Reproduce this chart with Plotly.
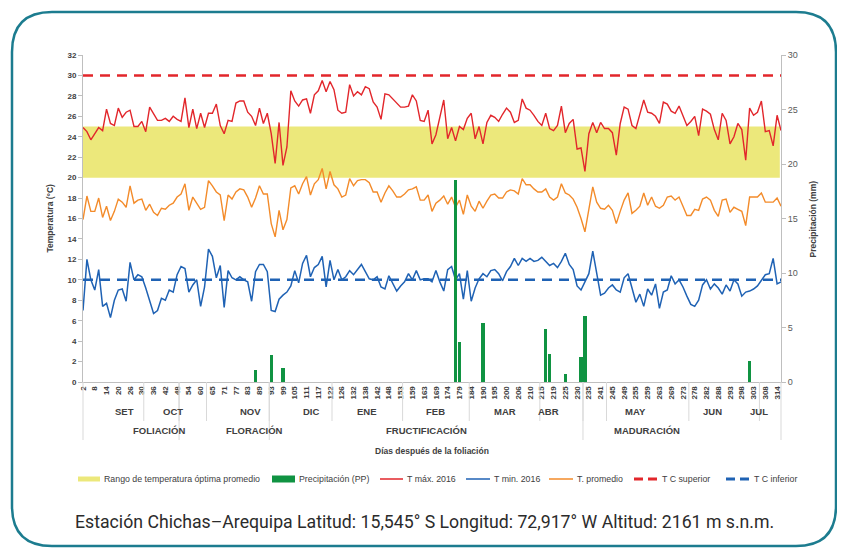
import plotly.graph_objects as go

# ---------------- data ----------------
day_labels = [2, 8, 14, 20, 26, 30, 36, 42, 48, 54, 60, 65, 71, 77, 83, 89, 93, 99, 105, 111,
              117, 122, 126, 132, 138, 142, 148, 153, 159, 163, 169, 174, 179, 184, 190, 195, 200,
              206, 210, 215, 219, 225, 230, 235, 241, 245, 249, 255, 259, 263, 269, 273, 278, 282,
              288, 293, 298, 303, 308, 314]

t_max = [24.9, 24.5, 23.7, 24.3, 24.9, 24.6, 26.7, 25.3, 25.1, 26.8,
         25.9, 26.4, 26.6, 25.0, 25.0, 25.5, 24.5, 26.9, 26.2, 25.6,
         25.6, 25.8, 25.5, 26.0, 25.7, 25.5, 27.8, 24.9, 26.7, 24.8,
         26.3, 24.9, 26.3, 26.3, 27.2, 25.1, 24.3, 25.6, 25.5, 27.3,
         27.5, 27.5, 26.4, 26.0, 25.1, 26.8, 25.3, 26.3, 24.3, 21.4,
         25.4, 21.2, 23.0, 28.5, 27.5, 27.0, 27.6, 27.7, 26.3,
         28.1, 28.5, 29.5, 28.4, 29.4, 28.6, 26.6, 26.3, 26.4, 29.1,
         28.0, 28.4, 28.1, 28.9, 28.7, 27.4, 26.9, 25.7, 28.2, 28.1,
         27.7, 27.3, 26.9, 26.9, 27.0, 28.1, 27.5, 25.6, 25.5, 26.6,
         23.3, 24.2, 25.9, 27.6, 23.8, 24.9, 23.6, 25.0, 24.7, 25.8,
         26.3, 23.8, 25.0, 23.3, 25.4, 26.1, 25.9, 25.5, 26.2, 26.8,
         26.4, 25.4, 25.6, 27.7, 26.8, 26.6, 26.1, 25.5,
         25.1, 26.3, 24.8, 24.6, 25.1, 27.0, 24.4, 25.3, 25.7, 22.8,
         22.9, 20.6, 24.3, 25.4, 24.4, 25.4, 24.8, 24.8, 24.4, 22.2,
         25.3, 26.9, 26.7, 25.1, 24.8, 26.3, 27.6, 26.4, 26.3, 26.0,
         25.3, 27.4, 27.2, 26.5, 26.3, 27.0, 26.0, 25.1, 25.5, 26.0,
         24.1, 26.7, 26.5, 26.2, 24.7, 23.7, 26.3, 25.6, 23.3, 24.0,
         25.3, 24.7, 21.7, 26.8, 26.1, 26.4, 27.5, 24.5, 24.6, 23.1,
         26.1, 24.6]

t_min = [7.0, 12.0, 10.0, 9.0, 11.0, 7.4, 7.7, 6.3, 8.0, 9.0,
         9.1, 7.9, 11.7, 10.0, 10.5, 10.3, 9.2, 7.9, 6.7, 7.0,
         8.2, 8.0, 9.0, 8.8, 10.5, 11.3, 11.1, 8.8, 9.5, 10.0,
         7.4, 9.3, 13.0, 12.3, 10.2, 11.4, 7.3, 10.9, 10.2, 10.0,
         10.3, 10.0, 9.8, 7.9, 10.8, 11.5, 11.5, 10.8, 7.0, 6.9,
         8.1, 8.5, 8.8, 9.4, 10.9, 9.7, 11.6, 12.4, 10.3,
         11.2, 11.5, 12.3, 9.3, 11.9, 10.0, 11.0, 10.0, 10.3, 10.9,
         10.5, 11.0, 11.5, 10.8, 10.1, 10.0, 10.3, 9.3, 9.1, 10.4,
         9.7, 8.9, 9.4, 9.8, 10.6, 10.0, 10.9, 10.0, 10.1, 10.1,
         9.8, 10.9, 9.8, 8.9, 11.0, 11.3, 10.0, 10.6, 8.1, 10.9,
         7.9, 9.2, 10.1, 10.6, 10.3, 10.9, 11.0, 10.6, 9.9, 10.8,
         11.3, 12.1, 11.4, 12.1, 11.8, 12.1, 11.8, 11.9,
         12.2, 11.8, 11.4, 11.6, 11.2, 11.8, 12.6, 11.5, 11.0, 9.4,
         9.0, 9.8, 10.6, 12.8, 10.5, 8.5, 8.7, 9.2, 9.5, 9.0,
         8.8, 10.2, 10.6, 9.3, 7.8, 8.6, 7.4, 9.1, 8.5, 9.6,
         7.2, 8.8, 9.0, 10.4, 9.6, 10.0, 9.3, 8.4, 7.6, 7.4,
         8.0, 9.5, 10.0, 9.1, 9.6, 9.2, 8.6, 9.5, 8.9, 10.0,
         9.6, 8.4, 8.8, 8.9, 9.1, 9.4, 10.0, 10.5, 10.6, 12.1,
         9.6, 9.8]

t_avg = [15.9, 18.2, 16.7, 16.7, 18.0, 16.1, 17.2, 15.8, 16.7, 17.9,
         17.6, 17.1, 19.2, 17.5, 17.8, 17.9, 16.8, 17.4, 16.6, 16.3,
         17.0, 16.9, 17.3, 17.5, 18.1, 18.4, 19.4, 16.8, 18.1, 17.5,
         16.9, 17.1, 19.7, 19.2, 18.6, 18.3, 15.8, 18.3, 17.9, 18.6,
         18.9, 18.8, 18.1, 17.1, 18.0, 19.2, 18.4, 18.4, 15.5, 14.2,
         16.8, 14.9, 15.9, 19.0, 19.2, 18.4, 19.4, 20.1, 18.3,
         19.4, 19.8, 20.9, 18.9, 20.6, 19.3, 18.9, 18.1, 18.3, 19.9,
         19.2, 19.7, 19.8, 19.8, 19.5, 18.6, 18.6, 17.6, 18.5, 19.2,
         18.7, 18.1, 18.1, 18.4, 18.8, 18.9, 19.1, 17.8, 17.8, 18.3,
         16.7, 17.5, 17.8, 18.2, 17.4, 18.1, 17.1, 17.8, 16.4, 18.3,
         17.2, 16.7, 17.7, 17.0, 17.7, 18.3, 18.4, 18.0, 18.0, 18.6,
         18.8, 18.7, 18.4, 19.9, 19.3, 19.3, 18.9, 18.6,
         18.6, 18.9, 18.1, 17.8, 18.1, 19.4, 18.5, 18.3, 17.9, 17.1,
         16.0, 14.7, 16.9, 19.1, 17.6, 17.0, 16.9, 17.3, 16.8, 15.5,
         16.7, 17.8, 18.5, 16.5, 16.8, 17.2, 18.5, 17.3, 18.1, 17.2,
         17.0, 17.3, 18.1, 18.2, 17.8, 18.1, 17.2, 16.3, 16.3, 16.9,
         16.8, 17.9, 18.1, 17.8, 16.8, 16.2, 17.8, 17.9, 16.6, 17.1,
         16.9, 16.7, 15.3, 18.1, 18.1, 18.1, 18.5, 17.6, 17.6, 17.6,
         18.0, 17.2]

# precipitation (mm): observation index -> value
precip_idx = [44, 48, 51, 95, 96, 102, 118, 119, 123, 127, 128, 170]
precip_mm = [1.1, 2.5, 1.3, 18.5, 3.7, 5.4, 4.9, 2.6, 0.7, 2.3, 6.1, 1.9]

tc_superior = 30
tc_inferior = 10
optimo_min, optimo_max = 20, 25

# month groups: (label, first index, last index)
month_groups = [("SET", 0, 15), ("OCT", 16, 24), ("", 25, 31), ("NOV", 32, 47), ("DIC", 48, 63),
                ("ENE", 64, 81), ("FEB", 82, 98), ("MAR", 99, 116), ("ABR", 117, 127),
                ("", 128, 133), ("MAY", 134, 154), ("JUN", 155, 172), ("JUL", 173, 178)]
phase_groups = [("FOLIACIÓN", 0, 24), ("FLORACIÓN", 25, 47), ("FRUCTIFICACIÓN", 48, 127),
                ("MADURACIÓN", 128, 178)]

n = len(t_max)
xs = list(range(n))
tick_idx = [i * 3 for i in range(len(day_labels))]
x_range = [0, n - 1]

# ---------------- styling ----------------
RED = "#e2262b"
BLUE = "#1f62b4"
ORANGE = "#f38b2a"
GREEN = "#109342"
YELLOW = "#ece87b"
TXT = "#404040"
AX = "#bfbfbf"
FONT = "Liberation Sans, Arial, sans-serif"

# page body has an 8px margin: figure is drawn at screen offset (8, 8)
OFF = 8
W, H = 845 - OFF, 550 - OFF
PLOT_X0, PLOT_X1, PLOT_Y0, PLOT_Y1 = 83, 781, 55, 382   # plot area in screen pixels
L, T = PLOT_X0 - OFF, PLOT_Y0 - OFF
PW, PH = PLOT_X1 - PLOT_X0, PLOT_Y1 - PLOT_Y0
R, B = W - L - PW, H - T - PH


def px(sx):
    return (sx - PLOT_X0) / PW


def py(sy):
    return (PLOT_Y1 - sy) / PH


def xpaper(i):
    return (i - x_range[0]) / (x_range[1] - x_range[0])


fig = go.Figure()

fig.add_trace(go.Scatter(x=xs, y=t_max, mode="lines", line=dict(color=RED, width=1.4),
                         name="T máx. 2016"))
fig.add_trace(go.Scatter(x=xs, y=t_min, mode="lines", line=dict(color=BLUE, width=1.5),
                         name="T min. 2016"))
fig.add_trace(go.Scatter(x=xs, y=t_avg, mode="lines", line=dict(color=ORANGE, width=1.4),
                         name="T. promedio"))
fig.add_trace(go.Scatter(x=[x_range[0], x_range[1]], y=[tc_superior, tc_superior], mode="lines",
                         line=dict(color=RED, width=2.6, dash="10px,7px"), name="T C superior"))
fig.add_trace(go.Scatter(x=[x_range[0], x_range[1]], y=[tc_inferior, tc_inferior], mode="lines",
                         line=dict(color=BLUE, width=2.6, dash="10px,7px"), name="T C inferior"))
fig.add_trace(go.Bar(x=precip_idx, y=precip_mm, yaxis="y2", width=0.8,
                     marker=dict(color=GREEN, line_width=0), name="Precipitación (PP)"))

shapes = []
annotations = []
# optimum band
shapes.append(dict(type="rect", xref="x", yref="y", x0=x_range[0], x1=x_range[1] - 0.3,
                   y0=optimo_min, y1=optimo_max, fillcolor=YELLOW, line_width=0, layer="below"))

# month row / phase row
month_y = py(411)
phase_y = py(430)
for lab, a, b in month_groups:
    x0 = xpaper(max(a - 0.5, x_range[0]))
    x1 = xpaper(min(b + 0.5, x_range[1]))
    if lab:
        annotations.append(dict(text=f"<b>{lab}</b>", x=(x0 + x1) / 2, y=month_y, xref="paper", yref="paper",
                                yanchor="middle", showarrow=False,
                                font=dict(size=9.5, color=TXT, family=FONT)))
    if a > 0:
        shapes.append(dict(type="line", xref="paper", yref="paper", x0=x0, x1=x0, y0=0, y1=py(421),
                           line=dict(color="#d9d9d9", width=1)))
for lab, a, b in phase_groups:
    x0 = xpaper(max(a - 0.5, x_range[0]))
    x1 = xpaper(min(b + 0.5, x_range[1]))
    annotations.append(dict(text=f"<b>{lab}</b>", x=(x0 + x1) / 2, y=phase_y, xref="paper", yref="paper",
                            yanchor="middle", showarrow=False,
                            font=dict(size=9.5, color=TXT, family=FONT)))
    shapes.append(dict(type="line", xref="paper", yref="paper", x0=x0, x1=x0, y0=0, y1=py(440),
                       line=dict(color="#d9d9d9", width=1)))
shapes.append(dict(type="line", xref="paper", yref="paper", x0=1, x1=1, y0=0, y1=py(440),
                   line=dict(color="#d9d9d9", width=1)))

annotations.append(dict(text="<b>Días después de la foliación</b>", x=px(432), y=py(451), xref="paper",
                        yref="paper", yanchor="middle", showarrow=False,
                        font=dict(size=8.5, color=TXT, family=FONT)))
annotations.append(dict(text="<b>Temperatura (°C)</b>", x=px(42), y=0.5, xref="paper", yref="paper",
                        textangle=-90, showarrow=False, font=dict(size=8.5, color=TXT, family=FONT)))
annotations.append(dict(text="<b>Precipitación (mm)</b>", x=px(819), y=0.5, xref="paper", yref="paper",
                        textangle=-90, showarrow=False, font=dict(size=8.5, color=TXT, family=FONT)))
annotations.append(dict(text="Estación Chichas–Arequipa Latitud: 15,545° S Longitud: 72,917° W Altitud: 2161 m s.n.m.",
                        x=px(424), y=py(522), xref="paper", yref="paper", yanchor="middle", showarrow=False,
                        font=dict(size=17.7, color="#2b2b2b", family="Roboto, sans-serif")))

# manual legend (symbol x0, x1 in screen px, text x in screen px)
legend_y = 479
legend_items = [
    ("Rango de temperatura óptima promedio", YELLOW, 5, None, 78, 100, 102),
    ("Precipitación (PP)", GREEN, 7, None, 272, 295, 297),
    ("T máx. 2016", RED, 1.5, None, 380, 403, 405),
    ("T min. 2016", BLUE, 1.5, None, 466, 490, 492),
    ("T. promedio", ORANGE, 1.5, None, 549, 573, 575),
    ("T C superior", RED, 3, "9px,5px", 634, 658, 660),
    ("T C inferior", BLUE, 3, "9px,5px", 726, 750, 752),
]
for name, col, wdt, dash, s0, s1, tx in legend_items:
    ln = dict(color=col, width=wdt)
    if dash:
        ln["dash"] = dash
    shapes.append(dict(type="line", xref="paper", yref="paper", x0=px(s0), x1=px(s1),
                       y0=py(legend_y), y1=py(legend_y), line=ln))
    annotations.append(dict(text=name, x=px(tx), y=py(legend_y), xref="paper", yref="paper",
                            xanchor="left", yanchor="middle", showarrow=False,
                            font=dict(size=8.8, color=TXT, family=FONT)))

# outer rounded frame (screen px)
fx0, fy0, fx1, fy1, rad = 12, 12, 836, 546, 40
pts = [("M", fx0, fy0 + rad), ("Q", fx0, fy0, fx0 + rad, fy0), ("L", fx1 - rad, fy0),
       ("Q", fx1, fy0, fx1, fy0 + rad), ("L", fx1, fy1 - rad), ("Q", fx1, fy1, fx1 - rad, fy1),
       ("L", fx0 + rad, fy1), ("Q", fx0, fy1, fx0, fy1 - rad)]
path = ""
for p in pts:
    cmd = p[0]
    coords = p[1:]
    seg = cmd + " " + " ".join(f"{px(coords[k]):.5f},{py(coords[k + 1]):.5f}" for k in range(0, len(coords), 2))
    path += seg + " "
path += "Z"
shapes.append(dict(type="path", xref="paper", yref="paper", path=path, line=dict(color="#1c7c8f", width=2.5)))

fig.update_layout(
    width=W, height=H,
    margin=dict(l=L, r=R, t=T, b=B, autoexpand=False),
    paper_bgcolor="white", plot_bgcolor="white",
    font=dict(family=FONT, color=TXT),
    showlegend=False,
    bargap=0,
    xaxis=dict(range=x_range, tickmode="array", tickvals=tick_idx, ticktext=[str(d) for d in day_labels],
               tickangle=-90, tickfont=dict(size=8, color=TXT, family=FONT, weight="bold"),
               showgrid=False, zeroline=False, showline=True, linecolor=AX, linewidth=1, ticks="",
               automargin=False),
    yaxis=dict(range=[0, 32], dtick=2, tickfont=dict(size=8, color=TXT, family=FONT, weight="bold"),
               showgrid=False, zeroline=False, showline=True, linecolor=AX, linewidth=1,
               ticks="outside", ticklen=4, tickcolor=AX, automargin=False),
    yaxis2=dict(range=[0, 30], dtick=5, overlaying="y", side="right",
                tickfont=dict(size=9, color="#595959", family=FONT),
                showgrid=False, zeroline=False, showline=True, linecolor=AX, linewidth=1,
                ticks="outside", ticklen=4, tickcolor=AX, automargin=False),
    shapes=shapes,
    annotations=annotations,
)

fig.write_html("out.html")
